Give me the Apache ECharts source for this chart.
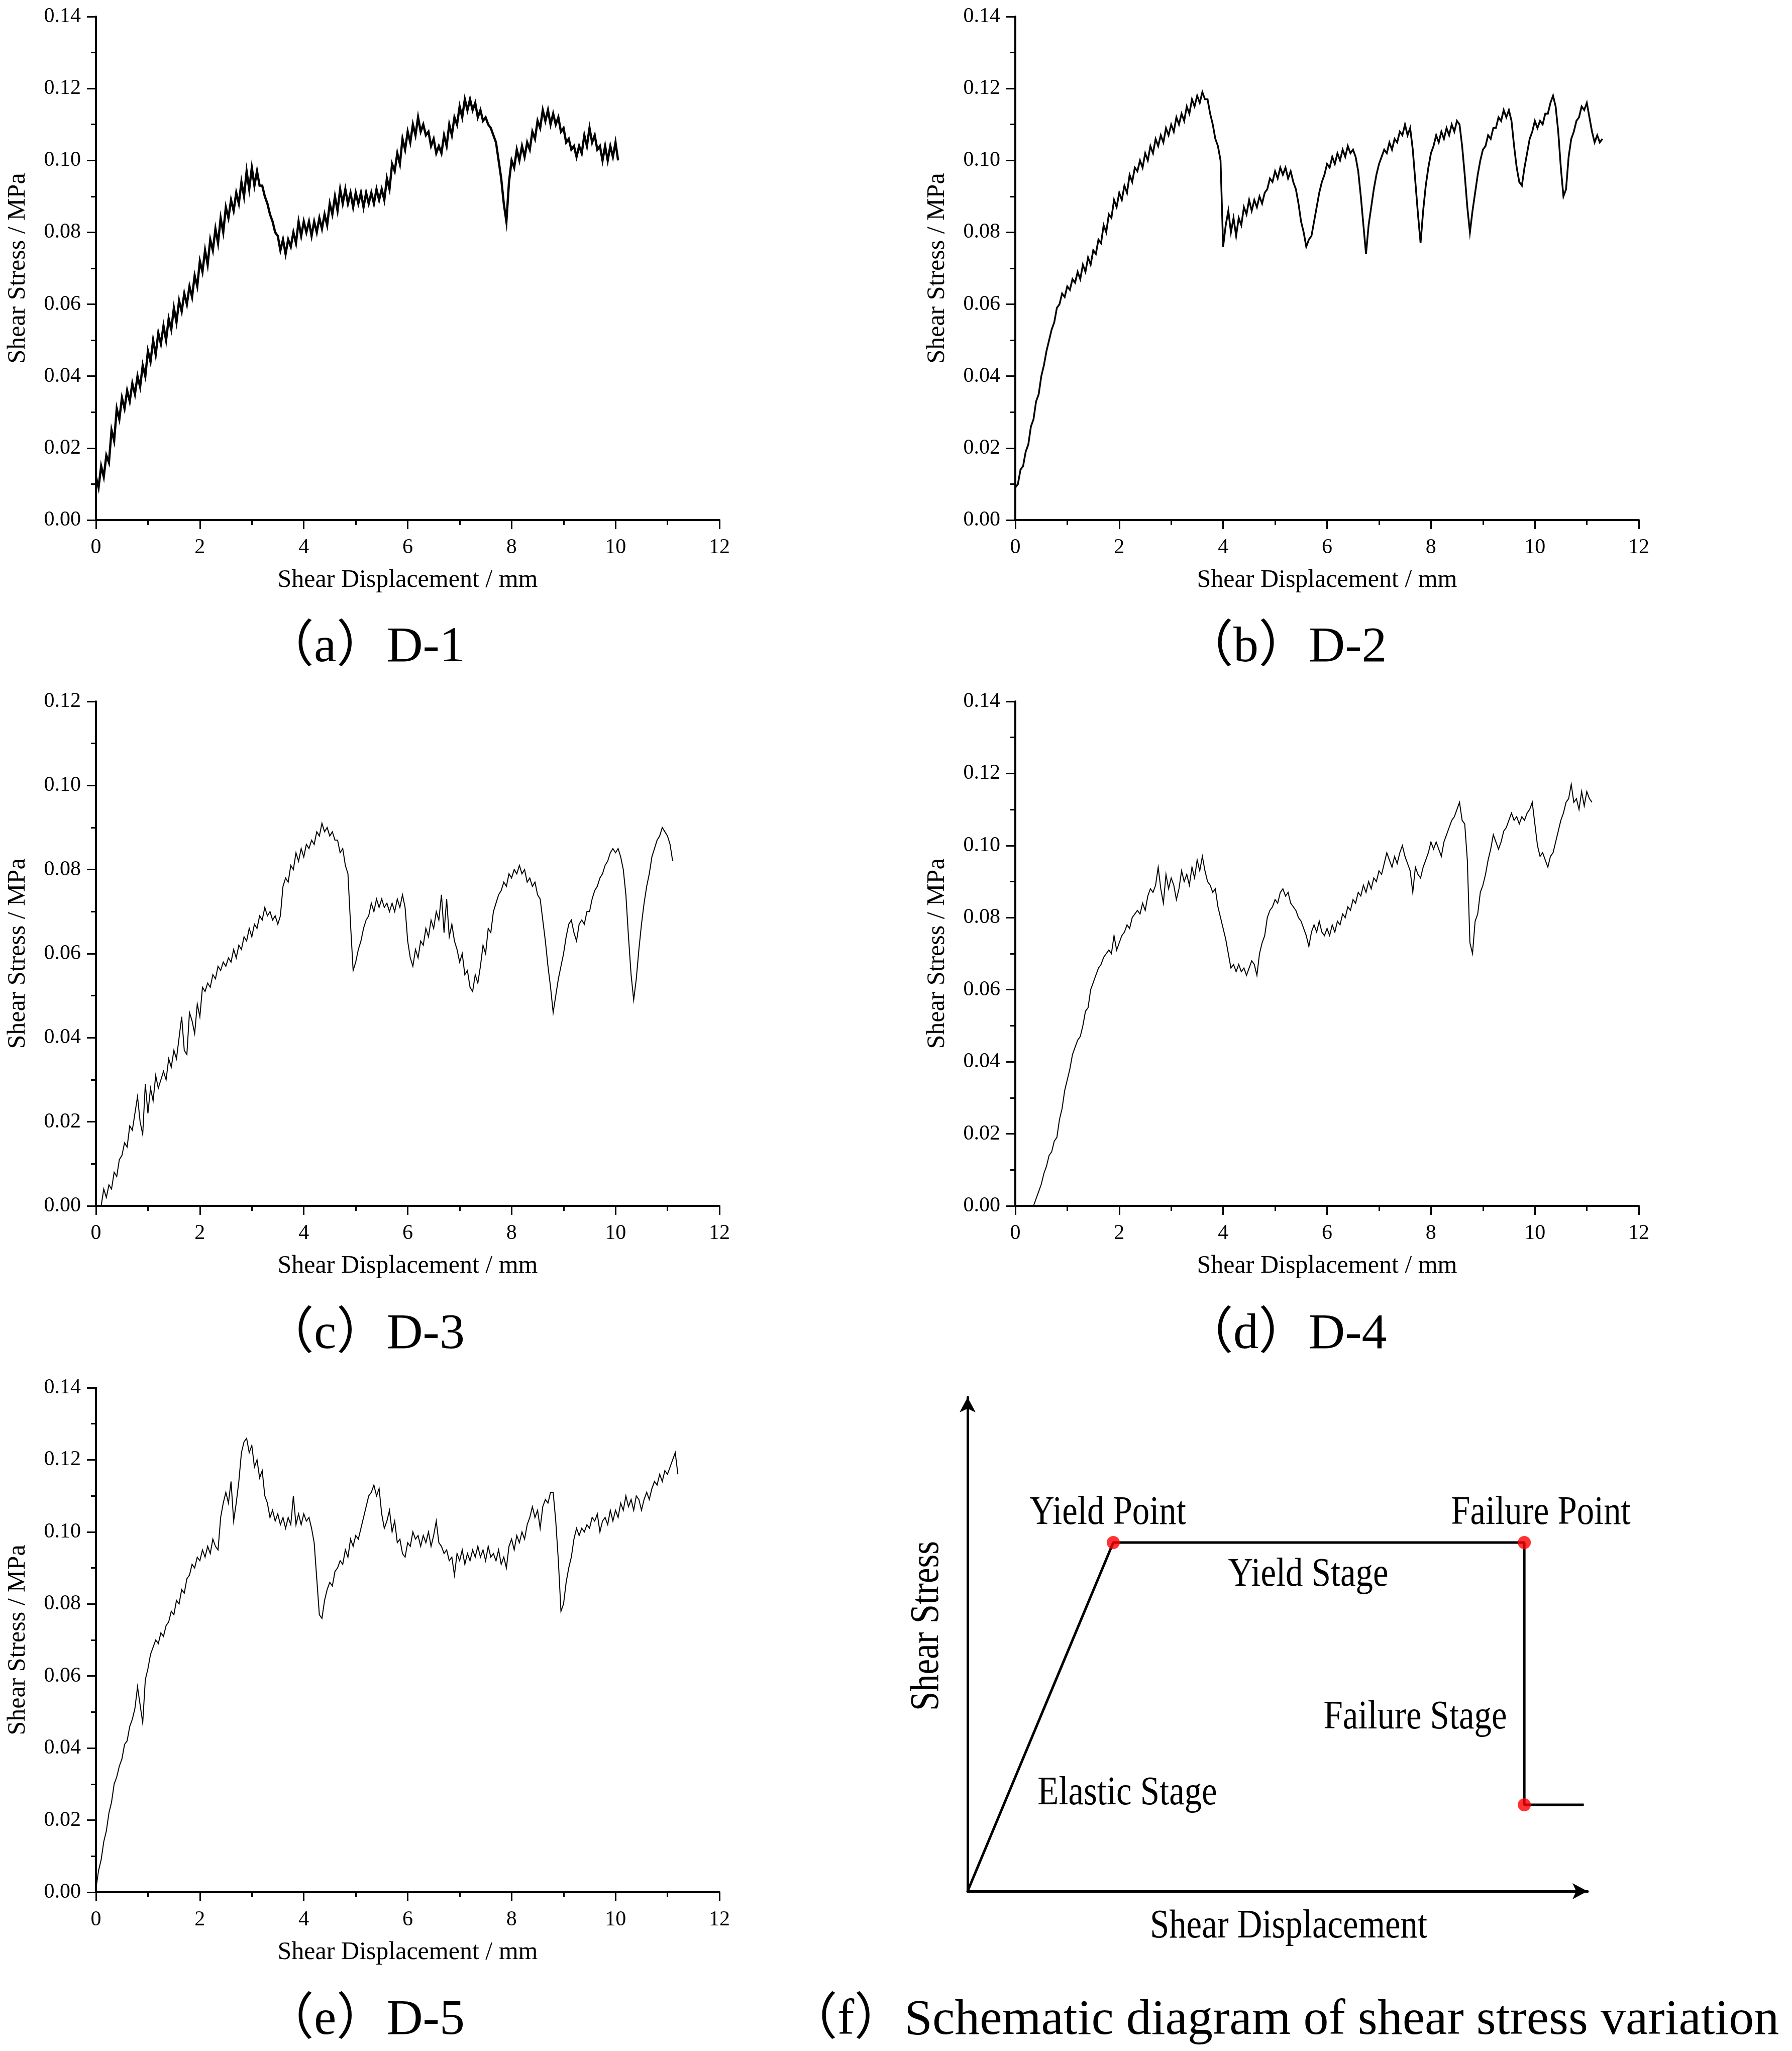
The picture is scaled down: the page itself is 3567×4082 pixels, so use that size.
<!DOCTYPE html>
<html>
<head>
<meta charset="utf-8">
<title>Shear stress - shear displacement curves</title>
<script src="https://cdn.jsdelivr.net/npm/echarts@6/dist/echarts.min.js"></script>
<style>
  html, body { margin: 0; padding: 0; background: #fff; }
  #chart { width: 3567px; height: 4082px; }
</style>
</head>
<body>
<div id="chart"></div>
<script>
/* 剪切应力-剪切位移曲线 (D-1 ~ D-5) + 示意图 */

// ------------- data (MPa, sampled every 0.05 mm) -------------
const STEP = 0.05;

const d1Start = 0;
const d1Stress = [
  0.012,0.009,0.015,0.012,0.018,0.016,0.025,0.022,0.031,0.028,0.034,0.031,0.036,0.033,0.038,0.035,0.040,0.037,0.043,0.040,
  0.047,0.044,0.050,0.046,0.052,0.049,0.054,0.050,0.056,0.053,0.059,0.055,0.061,0.058,0.063,0.060,0.065,0.062,0.068,0.065,
  0.072,0.069,0.075,0.071,0.078,0.075,0.081,0.077,0.084,0.080,0.087,0.084,0.089,0.086,0.091,0.088,0.094,0.090,0.097,0.092,
  0.098,0.093,0.097,0.093,0.093,0.090,0.088,0.085,0.083,0.080,0.079,0.075,0.078,0.074,0.078,0.076,0.080,0.077,0.083,0.079,
  0.083,0.080,0.083,0.079,0.083,0.080,0.084,0.081,0.085,0.082,0.088,0.085,0.090,0.086,0.092,0.088,0.092,0.088,0.091,0.087,
  0.091,0.088,0.091,0.087,0.091,0.088,0.091,0.088,0.092,0.089,0.092,0.089,0.095,0.092,0.099,0.097,0.102,0.099,0.106,0.103,
  0.108,0.105,0.110,0.107,0.112,0.108,0.110,0.107,0.108,0.104,0.106,0.102,0.104,0.102,0.107,0.104,0.110,0.107,0.112,0.110,
  0.115,0.112,0.117,0.114,0.117,0.114,0.116,0.112,0.114,0.111,0.112,0.110,0.109,0.107,0.105,0.100,0.095,0.088,0.083,0.094,
  0.100,0.098,0.103,0.100,0.104,0.101,0.105,0.103,0.108,0.106,0.111,0.109,0.114,0.111,0.114,0.110,0.113,0.110,0.112,0.108,
  0.109,0.105,0.106,0.103,0.104,0.101,0.104,0.102,0.107,0.104,0.109,0.105,0.107,0.103,0.104,0.100,0.104,0.100,0.104,0.101,
  0.105,0.100
];

const d2Start = 0;
const d2Stress = [
  0.009,0.010,0.014,0.015,0.019,0.021,0.026,0.028,0.033,0.035,0.040,0.043,0.047,0.050,0.053,0.055,0.059,0.060,0.063,0.062,
  0.065,0.064,0.067,0.066,0.069,0.067,0.071,0.069,0.073,0.071,0.075,0.074,0.078,0.077,0.082,0.080,0.085,0.084,0.089,0.087,
  0.091,0.089,0.093,0.091,0.096,0.094,0.098,0.097,0.100,0.098,0.102,0.100,0.104,0.102,0.106,0.104,0.107,0.105,0.109,0.107,
  0.110,0.108,0.112,0.110,0.113,0.111,0.115,0.113,0.117,0.115,0.118,0.116,0.119,0.117,0.117,0.113,0.110,0.106,0.104,0.100,
  0.076,0.082,0.086,0.080,0.084,0.079,0.084,0.082,0.087,0.085,0.089,0.086,0.089,0.087,0.090,0.088,0.091,0.092,0.095,0.094,
  0.097,0.095,0.098,0.096,0.098,0.095,0.097,0.094,0.092,0.088,0.083,0.080,0.076,0.078,0.079,0.083,0.087,0.091,0.094,0.096,
  0.099,0.098,0.101,0.099,0.102,0.100,0.103,0.101,0.104,0.102,0.103,0.101,0.097,0.090,0.082,0.074,0.082,0.087,0.092,0.096,
  0.099,0.101,0.103,0.102,0.105,0.103,0.106,0.105,0.108,0.107,0.110,0.107,0.109,0.103,0.094,0.085,0.077,0.086,0.093,0.098,
  0.102,0.104,0.107,0.105,0.108,0.106,0.109,0.107,0.110,0.108,0.111,0.110,0.104,0.096,0.087,0.080,0.086,0.091,0.096,0.100,
  0.103,0.104,0.107,0.106,0.109,0.109,0.112,0.111,0.114,0.112,0.114,0.111,0.104,0.098,0.094,0.093,0.098,0.102,0.106,0.108,
  0.111,0.109,0.111,0.110,0.113,0.113,0.116,0.118,0.115,0.108,0.098,0.090,0.092,0.101,0.106,0.108,0.111,0.112,0.115,0.114,
  0.116,0.112,0.108,0.105,0.107,0.105,0.106
];

const d3Start = 0.1;
const d3Stress = [
  0.000,0.004,0.002,0.005,0.004,0.008,0.007,0.011,0.012,0.015,0.014,0.019,0.018,0.022,0.026,0.020,0.017,0.029,0.022,0.028,
  0.025,0.031,0.028,0.030,0.032,0.030,0.035,0.033,0.037,0.035,0.040,0.045,0.037,0.036,0.046,0.044,0.041,0.048,0.045,0.052,
  0.051,0.053,0.052,0.055,0.054,0.057,0.056,0.058,0.057,0.059,0.058,0.061,0.059,0.062,0.061,0.064,0.063,0.066,0.064,0.067,
  0.066,0.069,0.068,0.071,0.069,0.070,0.068,0.069,0.067,0.069,0.076,0.078,0.077,0.081,0.080,0.084,0.082,0.085,0.083,0.086,
  0.085,0.087,0.086,0.089,0.088,0.091,0.089,0.090,0.088,0.089,0.087,0.087,0.084,0.085,0.081,0.079,0.067,0.056,0.058,0.061,
  0.063,0.066,0.068,0.069,0.072,0.070,0.073,0.071,0.073,0.071,0.072,0.070,0.072,0.070,0.073,0.071,0.074,0.071,0.063,0.059,
  0.057,0.061,0.059,0.063,0.062,0.066,0.064,0.068,0.066,0.070,0.068,0.074,0.065,0.073,0.064,0.067,0.063,0.061,0.058,0.060,
  0.055,0.056,0.052,0.051,0.055,0.053,0.057,0.062,0.060,0.066,0.065,0.070,0.072,0.074,0.075,0.077,0.076,0.079,0.078,0.080,
  0.079,0.081,0.079,0.080,0.077,0.078,0.076,0.077,0.074,0.073,0.068,0.063,0.057,0.052,0.046,0.050,0.054,0.057,0.060,0.064,
  0.067,0.068,0.065,0.063,0.067,0.068,0.067,0.070,0.070,0.073,0.075,0.076,0.078,0.079,0.081,0.082,0.084,0.085,0.084,0.085,
  0.083,0.080,0.074,0.064,0.055,0.049,0.054,0.061,0.067,0.072,0.076,0.079,0.083,0.085,0.087,0.088,0.090,0.089,0.088,0.086,
  0.082
];

const d4Start = 0.35;
const d4Stress = [
  0.000,0.002,0.004,0.006,0.009,0.011,0.014,0.015,0.018,0.019,0.024,0.027,0.032,0.035,0.038,0.042,0.044,0.046,0.047,0.050,
  0.054,0.055,0.060,0.062,0.064,0.066,0.067,0.069,0.070,0.071,0.070,0.075,0.071,0.073,0.075,0.076,0.078,0.077,0.080,0.081,
  0.082,0.081,0.084,0.082,0.086,0.088,0.087,0.089,0.094,0.088,0.084,0.092,0.088,0.091,0.089,0.085,0.088,0.093,0.090,0.092,
  0.089,0.094,0.091,0.096,0.093,0.097,0.093,0.090,0.089,0.087,0.088,0.083,0.080,0.077,0.074,0.070,0.066,0.067,0.065,0.067,
  0.065,0.066,0.064,0.066,0.068,0.067,0.064,0.070,0.073,0.075,0.080,0.082,0.083,0.085,0.084,0.087,0.088,0.086,0.087,0.084,
  0.083,0.082,0.080,0.079,0.077,0.075,0.072,0.076,0.078,0.076,0.079,0.076,0.075,0.077,0.075,0.078,0.076,0.079,0.078,0.081,
  0.080,0.083,0.082,0.085,0.084,0.087,0.086,0.089,0.087,0.090,0.088,0.091,0.090,0.093,0.092,0.095,0.098,0.096,0.094,0.097,
  0.095,0.098,0.100,0.097,0.095,0.093,0.087,0.094,0.092,0.091,0.094,0.096,0.098,0.101,0.099,0.101,0.099,0.097,0.101,0.103,
  0.105,0.107,0.108,0.110,0.112,0.107,0.106,0.096,0.073,0.070,0.079,0.081,0.087,0.089,0.092,0.096,0.099,0.103,0.101,0.099,
  0.101,0.104,0.105,0.107,0.109,0.107,0.108,0.106,0.108,0.107,0.109,0.110,0.112,0.106,0.100,0.097,0.098,0.096,0.094,0.097,
  0.098,0.101,0.104,0.107,0.109,0.112,0.113,0.117,0.112,0.113,0.110,0.115,0.111,0.115,0.113,0.112
];

const d5Start = 0;
const d5Stress = [
  0.001,0.006,0.009,0.014,0.017,0.022,0.025,0.030,0.032,0.035,0.037,0.041,0.042,0.046,0.048,0.051,0.057,0.052,0.047,0.059,
  0.062,0.066,0.068,0.070,0.069,0.072,0.071,0.074,0.075,0.078,0.077,0.081,0.080,0.084,0.083,0.087,0.088,0.091,0.090,0.093,
  0.092,0.095,0.093,0.096,0.094,0.098,0.096,0.095,0.104,0.108,0.111,0.108,0.114,0.103,0.108,0.114,0.122,0.125,0.126,0.122,
  0.124,0.118,0.120,0.115,0.117,0.110,0.108,0.104,0.106,0.103,0.105,0.102,0.104,0.101,0.104,0.102,0.110,0.102,0.105,0.102,
  0.105,0.103,0.104,0.101,0.097,0.087,0.077,0.076,0.081,0.084,0.086,0.085,0.089,0.090,0.092,0.091,0.095,0.093,0.098,0.096,
  0.099,0.098,0.101,0.104,0.107,0.110,0.111,0.113,0.110,0.112,0.105,0.101,0.103,0.106,0.100,0.103,0.097,0.098,0.094,0.093,
  0.097,0.096,0.100,0.098,0.099,0.096,0.099,0.097,0.100,0.096,0.099,0.103,0.097,0.096,0.094,0.095,0.092,0.093,0.088,0.094,
  0.092,0.095,0.091,0.094,0.092,0.095,0.093,0.096,0.093,0.095,0.092,0.096,0.093,0.094,0.092,0.095,0.091,0.093,0.090,0.096,
  0.098,0.095,0.099,0.097,0.100,0.098,0.102,0.104,0.107,0.104,0.106,0.101,0.107,0.109,0.108,0.111,0.111,0.103,0.092,0.078,
  0.080,0.086,0.090,0.093,0.098,0.101,0.099,0.101,0.100,0.102,0.101,0.104,0.103,0.105,0.100,0.103,0.104,0.102,0.106,0.103,
  0.106,0.104,0.108,0.106,0.110,0.107,0.109,0.106,0.110,0.109,0.106,0.109,0.111,0.109,0.112,0.114,0.113,0.116,0.114,0.117,
  0.116,0.118,0.120,0.122,0.116
];

// schematic (f): abstract units 0-100 on both axes
const schemX = [0, 23.5, 89.8, 89.8, 99.4];
const schemY = [0, 70.6, 70.6, 17.5, 17.5];
const keyPointX = [23.5, 89.8, 89.8];
const keyPointY = [70.6, 70.6, 17.5];

const CAPTIONS = ["（a）D-1", "（b）D-2", "（c）D-3", "（d）D-4", "（e）D-5"];
const CAPTION_F = "（f）Schematic diagram of shear stress variation";
const Y_MAX = [0.14, 0.14, 0.12, 0.14, 0.14];

// ------------- utils -------------
const SERIF = '"Liberation Serif", "Times New Roman", serif';
const CAP_FONT = '"Liberation Serif", "Noto Sans CJK SC", serif';

function toPairs(start, ys) {
  return ys.map((y, i) => [+(start + i * STEP).toFixed(2), y]);
}

const PANELS = [
  {data: toPairs(d1Start, d1Stress), left: 191, top: 33, height: 1002, lw: 4.5},
  {data: toPairs(d2Start, d2Stress), left: 2021, top: 33, height: 1002, lw: 3.5},
  {data: toPairs(d3Start, d3Stress), left: 191, top: 1396, height: 1004, lw: 2},
  {data: toPairs(d4Start, d4Stress), left: 2021, top: 1396, height: 1004, lw: 2},
  {data: toPairs(d5Start, d5Stress), left: 191, top: 2762, height: 1004, lw: 2},
];
const PLOT_W = 1241;

const axisLine = {show: true, lineStyle: {color: "#000", width: 4}};
const tickStyle = {color: "#000", width: 3};

function xAxisFor(i) {
  return {
    gridIndex: i, type: "value", min: 0, max: 12, interval: 2,
    name: "Shear Displacement / mm", nameLocation: "middle", nameGap: 95,
    nameTextStyle: {fontFamily: SERIF, fontSize: 50, color: "#000"},
    axisLine: axisLine,
    axisTick: {show: true, inside: false, length: 18, lineStyle: tickStyle},
    minorTick: {show: true, splitNumber: 2, length: 10, lineStyle: tickStyle},
    axisLabel: {fontFamily: SERIF, fontSize: 42, color: "#000", margin: 34},
    splitLine: {show: false},
  };
}
function yAxisFor(i) {
  return {
    gridIndex: i, type: "value", min: 0, max: Y_MAX[i], interval: 0.02,
    name: "Shear Stress / MPa", nameLocation: "middle", nameGap: 130, nameRotate: 90,
    nameTextStyle: {fontFamily: SERIF, fontSize: 50, color: "#000"},
    axisLine: axisLine,
    axisTick: {show: true, inside: false, length: 18, lineStyle: tickStyle},
    minorTick: {show: true, splitNumber: 2, length: 10, lineStyle: tickStyle},
    axisLabel: {fontFamily: SERIF, fontSize: 42, color: "#000", margin: 30, formatter: v => v.toFixed(2)},
    splitLine: {show: false},
  };
}

// ------------- build option -------------
const grids = PANELS.map(p => ({left: p.left, top: p.top, width: PLOT_W, height: p.height}));
const xAxes = PANELS.map((p, i) => xAxisFor(i));
const yAxes = PANELS.map((p, i) => yAxisFor(i));
const series = PANELS.map((p, i) => ({
  type: "line", xAxisIndex: i, yAxisIndex: i, data: p.data,
  showSymbol: false, symbol: "none", animation: false,
  lineStyle: {color: "#000", width: p.lw, join: "miter"},
}));

// schematic panel (f)
const F = 5;
grids.push({left: 1926, top: 2781, width: 1234, height: 983});
const arrowLine = {show: true, symbol: ["none", "arrow"], symbolSize: [24, 30], lineStyle: {color: "#000", width: 5}};
xAxes.push({gridIndex: F, type: "value", min: 0, max: 100, axisLine: arrowLine,
  axisTick: {show: false}, axisLabel: {show: false}, splitLine: {show: false}});
yAxes.push({gridIndex: F, type: "value", min: 0, max: 100, axisLine: arrowLine,
  axisTick: {show: false}, axisLabel: {show: false}, splitLine: {show: false}});
series.push({
  type: "line", xAxisIndex: F, yAxisIndex: F, animation: false, showSymbol: false, symbol: "none",
  data: schemX.map((x, i) => [x, schemY[i]]),
  lineStyle: {color: "#000", width: 5},
});
series.push({
  type: "scatter", xAxisIndex: F, yAxisIndex: F, animation: false, symbolSize: 26,
  data: keyPointX.map((x, i) => [x, keyPointY[i]]),
  itemStyle: {color: "#ff0000"}, z: 5,
});

// captions + schematic labels
function txt(text, x, y, size, opts) {
  opts = opts || {};
  return {
    type: "text", x: x, y: y, rotation: opts.rotation || 0, scaleX: opts.scaleX || 1,
    style: {
      text: text, fontFamily: opts.font || SERIF, fontSize: size, fill: "#000",
      textAlign: opts.align || "center", textVerticalAlign: "middle",
      align: opts.align || "center", verticalAlign: "middle",
    },
  };
}
const graphics = [];
const capPos = [[525, 1290], [2355, 1290], [525, 2657], [2355, 2657], [525, 4022]];
CAPTIONS.forEach((c, i) => graphics.push(txt(c, capPos[i][0], capPos[i][1], 100, {font: CAP_FONT, align: "left"})));
graphics.push(txt(CAPTION_F, 1567, 4022, 100, {font: CAP_FONT, align: "left"}));

const COND = 0.86;
graphics.push(txt("Yield Point", 2205, 3012, 80, {scaleX: COND}));
graphics.push(txt("Failure Point", 3067, 3012, 80, {scaleX: COND}));
graphics.push(txt("Yield Stage", 2604, 3135, 80, {scaleX: COND}));
graphics.push(txt("Failure Stage", 2817, 3419, 80, {scaleX: COND}));
graphics.push(txt("Elastic Stage", 2244, 3570, 80, {scaleX: COND}));
graphics.push(txt("Shear Displacement", 2565, 3835, 80, {scaleX: COND}));
graphics.push(txt("Shear Stress", 1846, 3236, 80, {scaleX: COND, rotation: Math.PI / 2}));

const chart = echarts.init(document.getElementById("chart"), null, {renderer: "canvas"});
chart.setOption({
  backgroundColor: "#fff",
  animation: false,
  grid: grids,
  xAxis: xAxes,
  yAxis: yAxes,
  series: series,
  graphic: {elements: graphics},
});
</script>
</body>
</html>
